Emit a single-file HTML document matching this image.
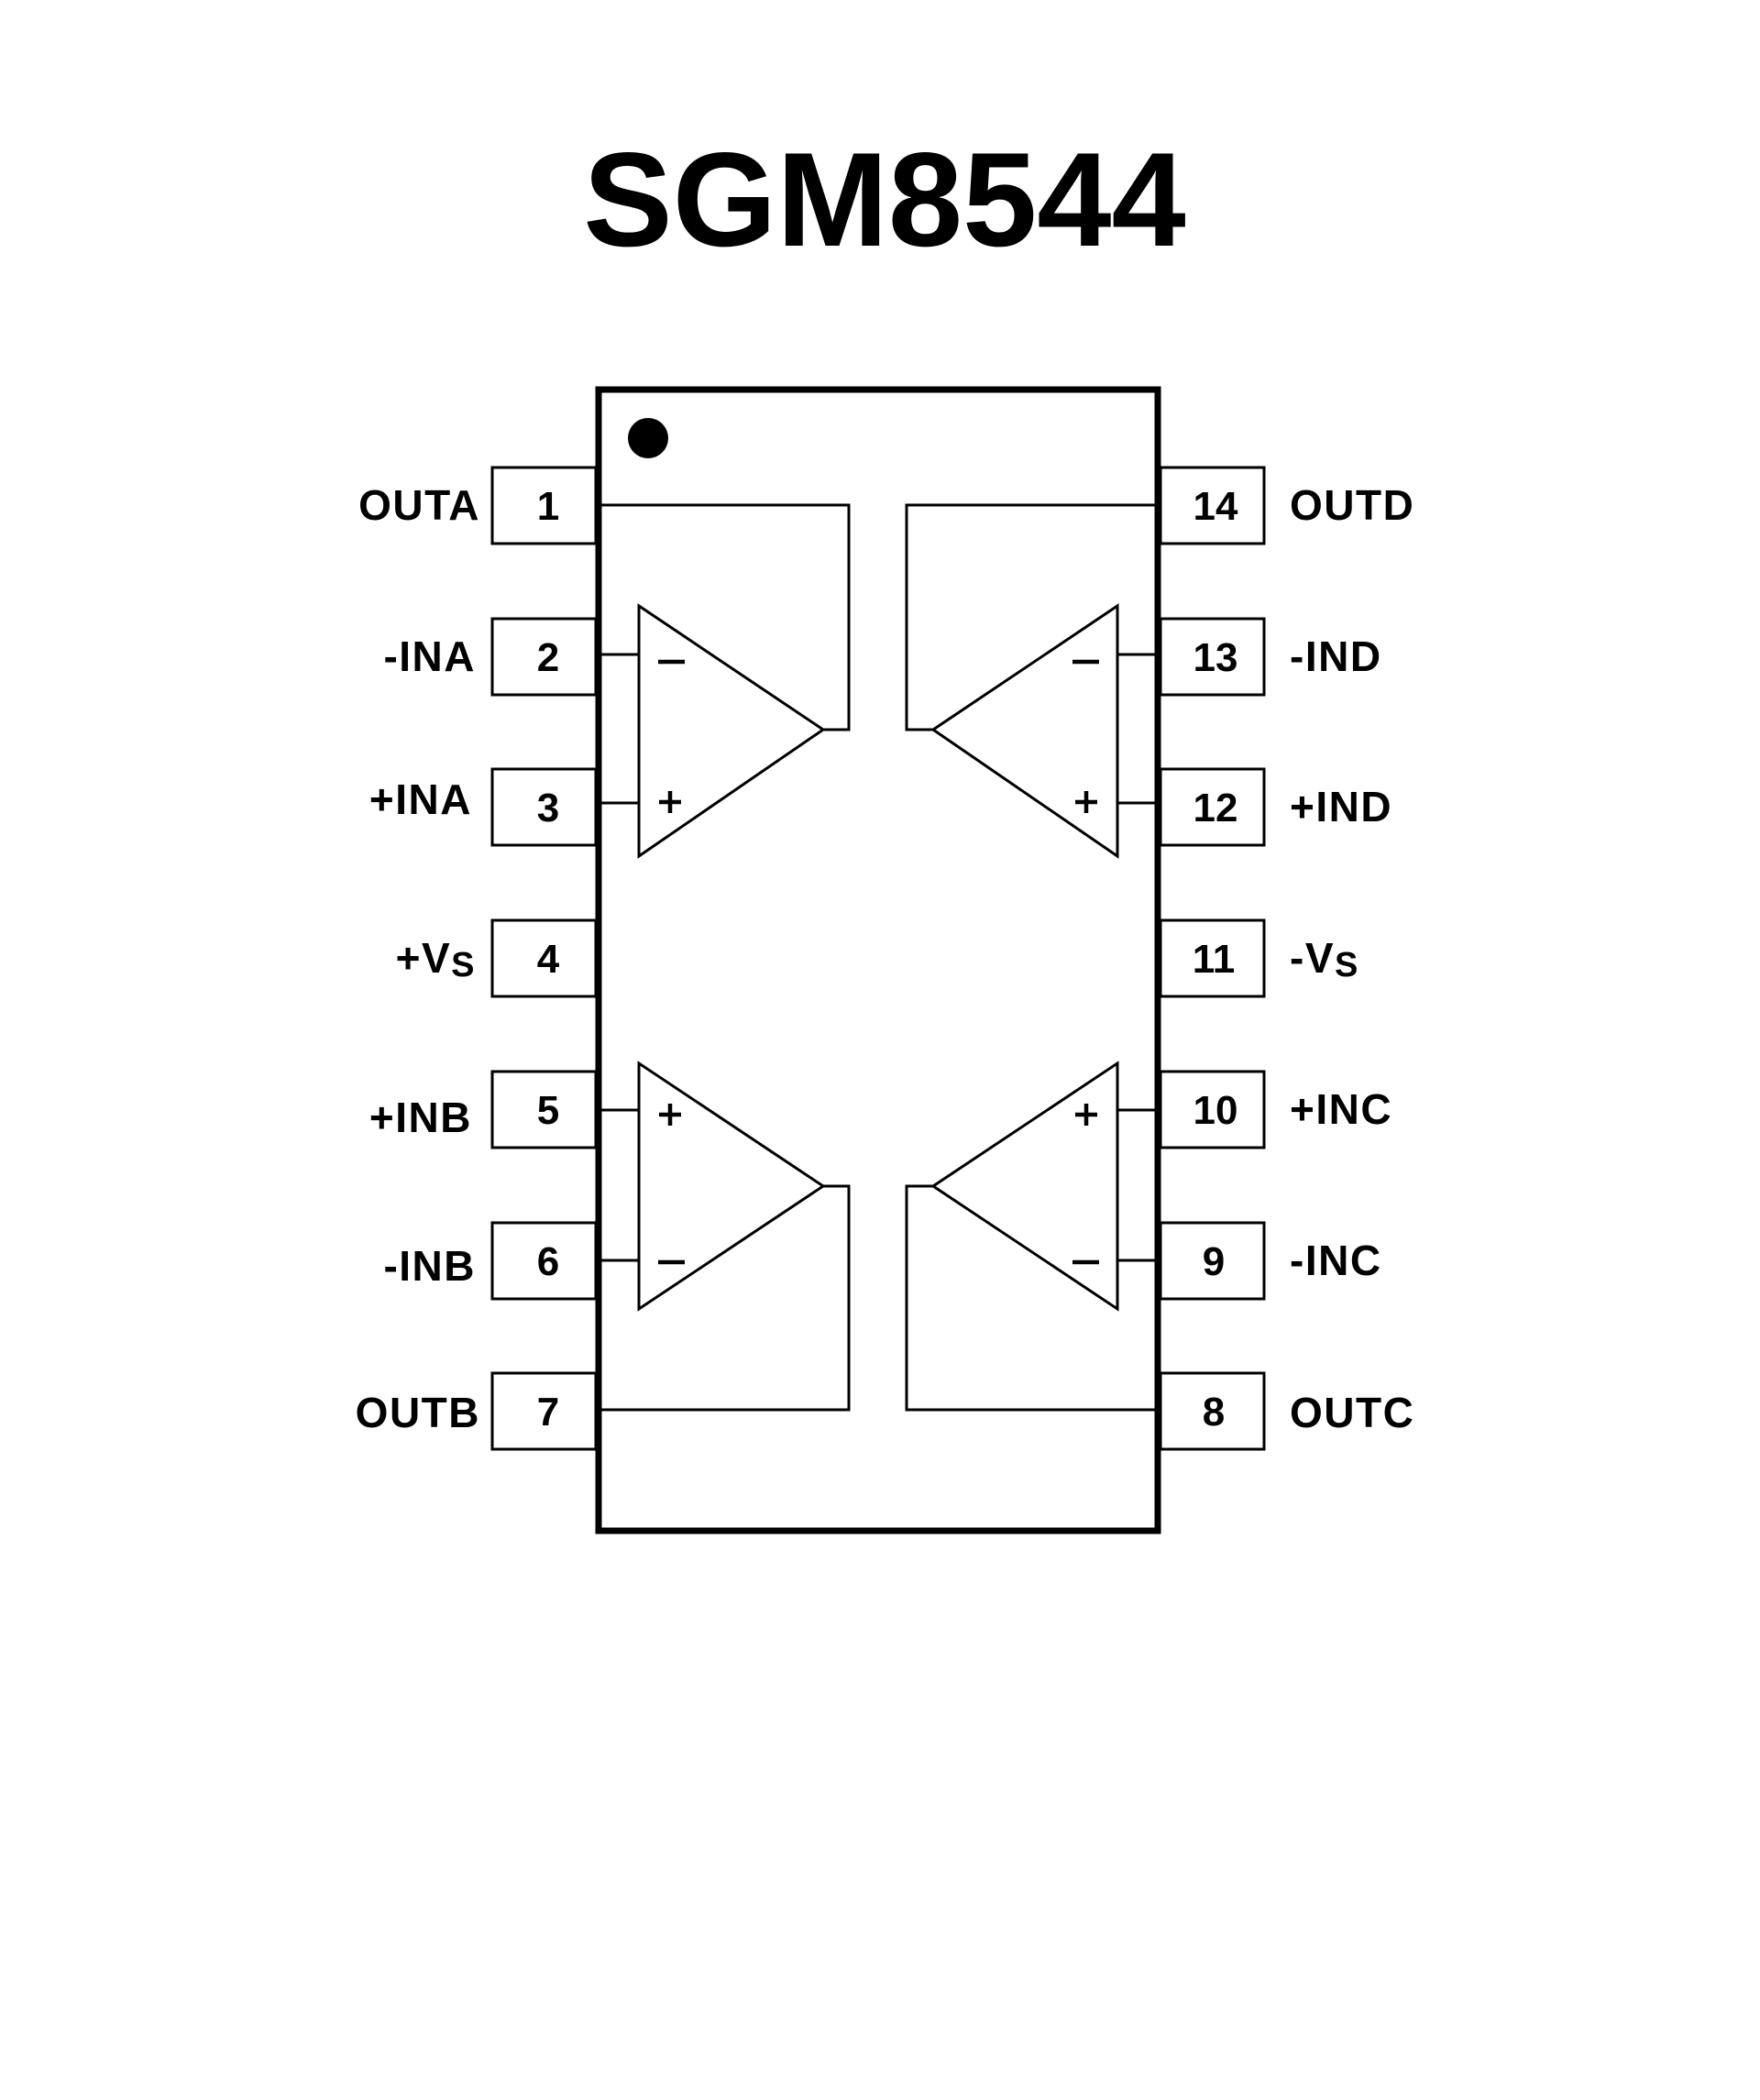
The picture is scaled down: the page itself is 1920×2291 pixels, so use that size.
<!DOCTYPE html>
<html><head><style>
html,body{margin:0;padding:0;background:#fff;}
svg{display:block;}
text{font-family:"Liberation Sans",Arial,sans-serif;font-weight:bold;fill:#000;}
</style></head><body>
<svg width="1920" height="2291" viewBox="0 0 1920 2291" xmlns="http://www.w3.org/2000/svg">
<text x="965" y="268" font-size="146" text-anchor="middle">SGM8544</text>
<rect x="653" y="425" width="610" height="1245" fill="none" stroke="#000" stroke-width="7"/>
<circle cx="707" cy="478" r="22" fill="#000"/>
<g fill="none" stroke="#000" stroke-width="3">
<rect x="537" y="510" width="113" height="83"/>
<rect x="537" y="675" width="113" height="83"/>
<rect x="537" y="839" width="113" height="83"/>
<rect x="537" y="1004" width="113" height="83"/>
<rect x="537" y="1169" width="113" height="83"/>
<rect x="537" y="1334" width="113" height="83"/>
<rect x="537" y="1498" width="113" height="83"/>
<rect x="1266" y="510" width="113" height="83"/>
<rect x="1266" y="675" width="113" height="83"/>
<rect x="1266" y="839" width="113" height="83"/>
<rect x="1266" y="1004" width="113" height="83"/>
<rect x="1266" y="1169" width="113" height="83"/>
<rect x="1266" y="1334" width="113" height="83"/>
<rect x="1266" y="1498" width="113" height="83"/>
<polygon points="697,661 697,934 898,796"/>
<polyline points="898,796 926,796 926,551 656,551"/>
<line x1="656" y1="714" x2="697" y2="714"/>
<line x1="656" y1="876" x2="697" y2="876"/>
<polygon points="1219,661 1219,934 1018,796"/>
<polyline points="1018,796 989,796 989,551 1260,551"/>
<line x1="1260" y1="714" x2="1219" y2="714"/>
<line x1="1260" y1="876" x2="1219" y2="876"/>
<polygon points="697,1160 697,1428 898,1294"/>
<polyline points="898,1294 926,1294 926,1538 656,1538"/>
<line x1="656" y1="1211" x2="697" y2="1211"/>
<line x1="656" y1="1375" x2="697" y2="1375"/>
<polygon points="1219,1160 1219,1428 1018,1294"/>
<polyline points="1018,1294 989,1294 989,1538 1260,1538"/>
<line x1="1260" y1="1211" x2="1219" y2="1211"/>
<line x1="1260" y1="1375" x2="1219" y2="1375"/>
</g>
<g stroke="#000" stroke-width="4.5">
<line x1="718" y1="722" x2="747" y2="722"/>
<line x1="1170" y1="722" x2="1199" y2="722"/>
<line x1="718" y1="1377" x2="747" y2="1377"/>
<line x1="1170" y1="1377" x2="1199" y2="1377"/>
<path d="M719 875H743M731 863V887"/>
<path d="M1173 875H1197M1185 863V887"/>
<path d="M719 1216H743M731 1204V1228"/>
<path d="M1173 1216H1197M1185 1204V1228"/>
</g>
<g font-size="44" text-anchor="middle">
<text x="598" y="567">1</text>
<text x="598" y="732">2</text>
<text x="598" y="896">3</text>
<text x="598" y="1061">4</text>
<text x="598" y="1226">5</text>
<text x="598" y="1391">6</text>
<text x="598" y="1555">7</text>
<text x="1326" y="567">14</text>
<text x="1326" y="732">13</text>
<text x="1326" y="896">12</text>
<text x="1324" y="1061">11</text>
<text x="1326" y="1226">10</text>
<text x="1324" y="1391">9</text>
<text x="1324" y="1555">8</text>
</g>
<g font-size="46" text-anchor="end" letter-spacing="1.5">
<text x="524" y="567">OUTA</text>
<text x="519" y="732">-INA</text>
<text x="515" y="888">+INA</text>
<text x="519" y="1061">+V<tspan font-size="38" dy="4">S</tspan></text>
<text x="515" y="1235">+INB</text>
<text x="519" y="1397">-INB</text>
<text x="524" y="1557">OUTB</text>
</g>
<g font-size="46" text-anchor="start" letter-spacing="1.5">
<text x="1407" y="567">OUTD</text>
<text x="1407" y="732">-IND</text>
<text x="1407" y="896">+IND</text>
<text x="1407" y="1061">-V<tspan font-size="38" dy="4">S</tspan></text>
<text x="1407" y="1226">+INC</text>
<text x="1407" y="1391">-INC</text>
<text x="1407" y="1557">OUTC</text>
</g>
</svg>
</body></html>
